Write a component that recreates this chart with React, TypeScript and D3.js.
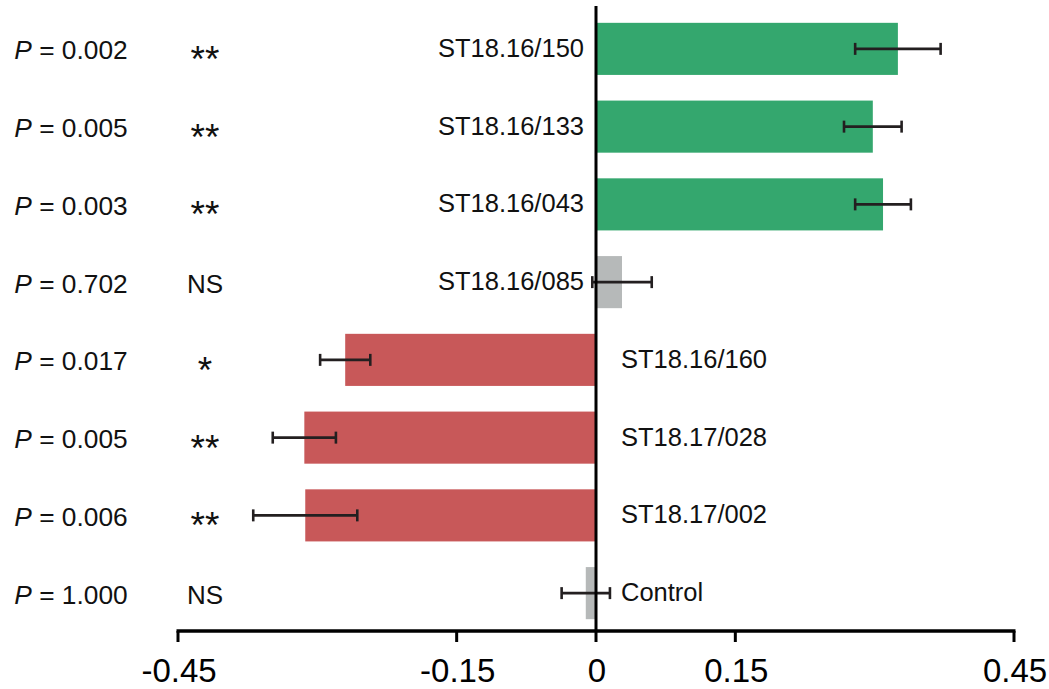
import React from "react";
import * as d3 from "d3";

const categories = [
  "ST18.16/150",
  "ST18.16/133",
  "ST18.16/043",
  "ST18.16/085",
  "ST18.16/160",
  "ST18.17/028",
  "ST18.17/002",
  "Control",
];
const values = [0.325, 0.298, 0.309, 0.028, -0.27, -0.314, -0.313, -0.011];
const errors = [0.046, 0.031, 0.03, 0.032, 0.027, 0.034, 0.056, 0.026];
const pValues = ["0.002", "0.005", "0.003", "0.702", "0.017", "0.005", "0.006", "1.000"];
const significance = ["**", "**", "**", "NS", "*", "**", "**", "NS"];
const groups = ["up", "up", "up", "ns", "down", "down", "down", "ns"];
const xTicks = [-0.45, -0.15, 0, 0.15, 0.45];

const W = 1049;
const H = 689;
const FONT = "'Liberation Sans', Arial, Helvetica, sans-serif";
const colorMap: Record<string, string> = {
  up: "#34a76e",
  down: "#c85859",
  ns: "#b6b9b9",
};

export default function App() {
  const x = d3.scaleLinear().domain([-0.45, 0.45]).range([178, 1014]);
  const y = d3
    .scaleBand<string>()
    .domain(categories)
    .range([10, 632])
    .paddingInner(0.33)
    .paddingOuter(0.165);
  const axisY = 631;
  const x0 = x(0);
  const bw = y.bandwidth();

  return (
    <svg
      width={W}
      height={H}
      style={{ position: "absolute", left: 0, top: 0, background: "#fff" }}
      fontFamily={FONT}
    >
      {categories.map((c, i) => {
        const v = values[i];
        const top = y(c)!;
        const cy = top + bw / 2;
        const xv = x(v);
        const lo = x(v - errors[i]);
        const hi = x(v + errors[i]);
        return (
          <g key={c}>
            <rect
              x={Math.min(x0, xv)}
              y={top}
              width={Math.abs(xv - x0)}
              height={bw}
              fill={colorMap[groups[i]]}
            />
            <g stroke="#231f20" strokeWidth={2.6}>
              <line x1={lo} x2={hi} y1={cy} y2={cy} />
              <line x1={lo} x2={lo} y1={cy - 6} y2={cy + 6} />
              <line x1={hi} x2={hi} y1={cy - 6} y2={cy + 6} />
            </g>
            <text
              x={v >= 0 ? x0 - 12 : x0 + 25}
              y={cy + 8}
              textAnchor={v >= 0 ? "end" : "start"}
              fontSize={25.5}
              fill="#111"
            >
              {c}
            </text>
            <text x={71} y={cy + 10.5} textAnchor="middle" fontSize={26.3} fill="#111">
              <tspan fontStyle="italic">P</tspan>
              {" = " + pValues[i]}
            </text>
            {significance[i] === "NS" ? (
              <text x={205} y={cy + 10.5} textAnchor="middle" fontSize={26} fill="#111">
                NS
              </text>
            ) : (
              <text x={205} y={cy + 23} textAnchor="middle" fontSize={37} fill="#111">
                {significance[i]}
              </text>
            )}
          </g>
        );
      })}
      {/* zero line */}
      <line x1={x0} x2={x0} y1={6} y2={axisY} stroke="#000" strokeWidth={3} />
      {/* bottom axis */}
      <line
        x1={x(-0.45) - 1.5}
        x2={x(0.45) + 1.5}
        y1={axisY}
        y2={axisY}
        stroke="#000"
        strokeWidth={3.5}
      />
      {xTicks.map((t) => (
        <g key={t}>
          <line x1={x(t)} x2={x(t)} y1={axisY} y2={axisY + 11} stroke="#000" strokeWidth={3} />
          <text x={x(t) + 1} y={682} textAnchor="middle" fontSize={33} fill="#000">
            {t === 0 ? "0" : String(t)}
          </text>
        </g>
      ))}
    </svg>
  );
}
